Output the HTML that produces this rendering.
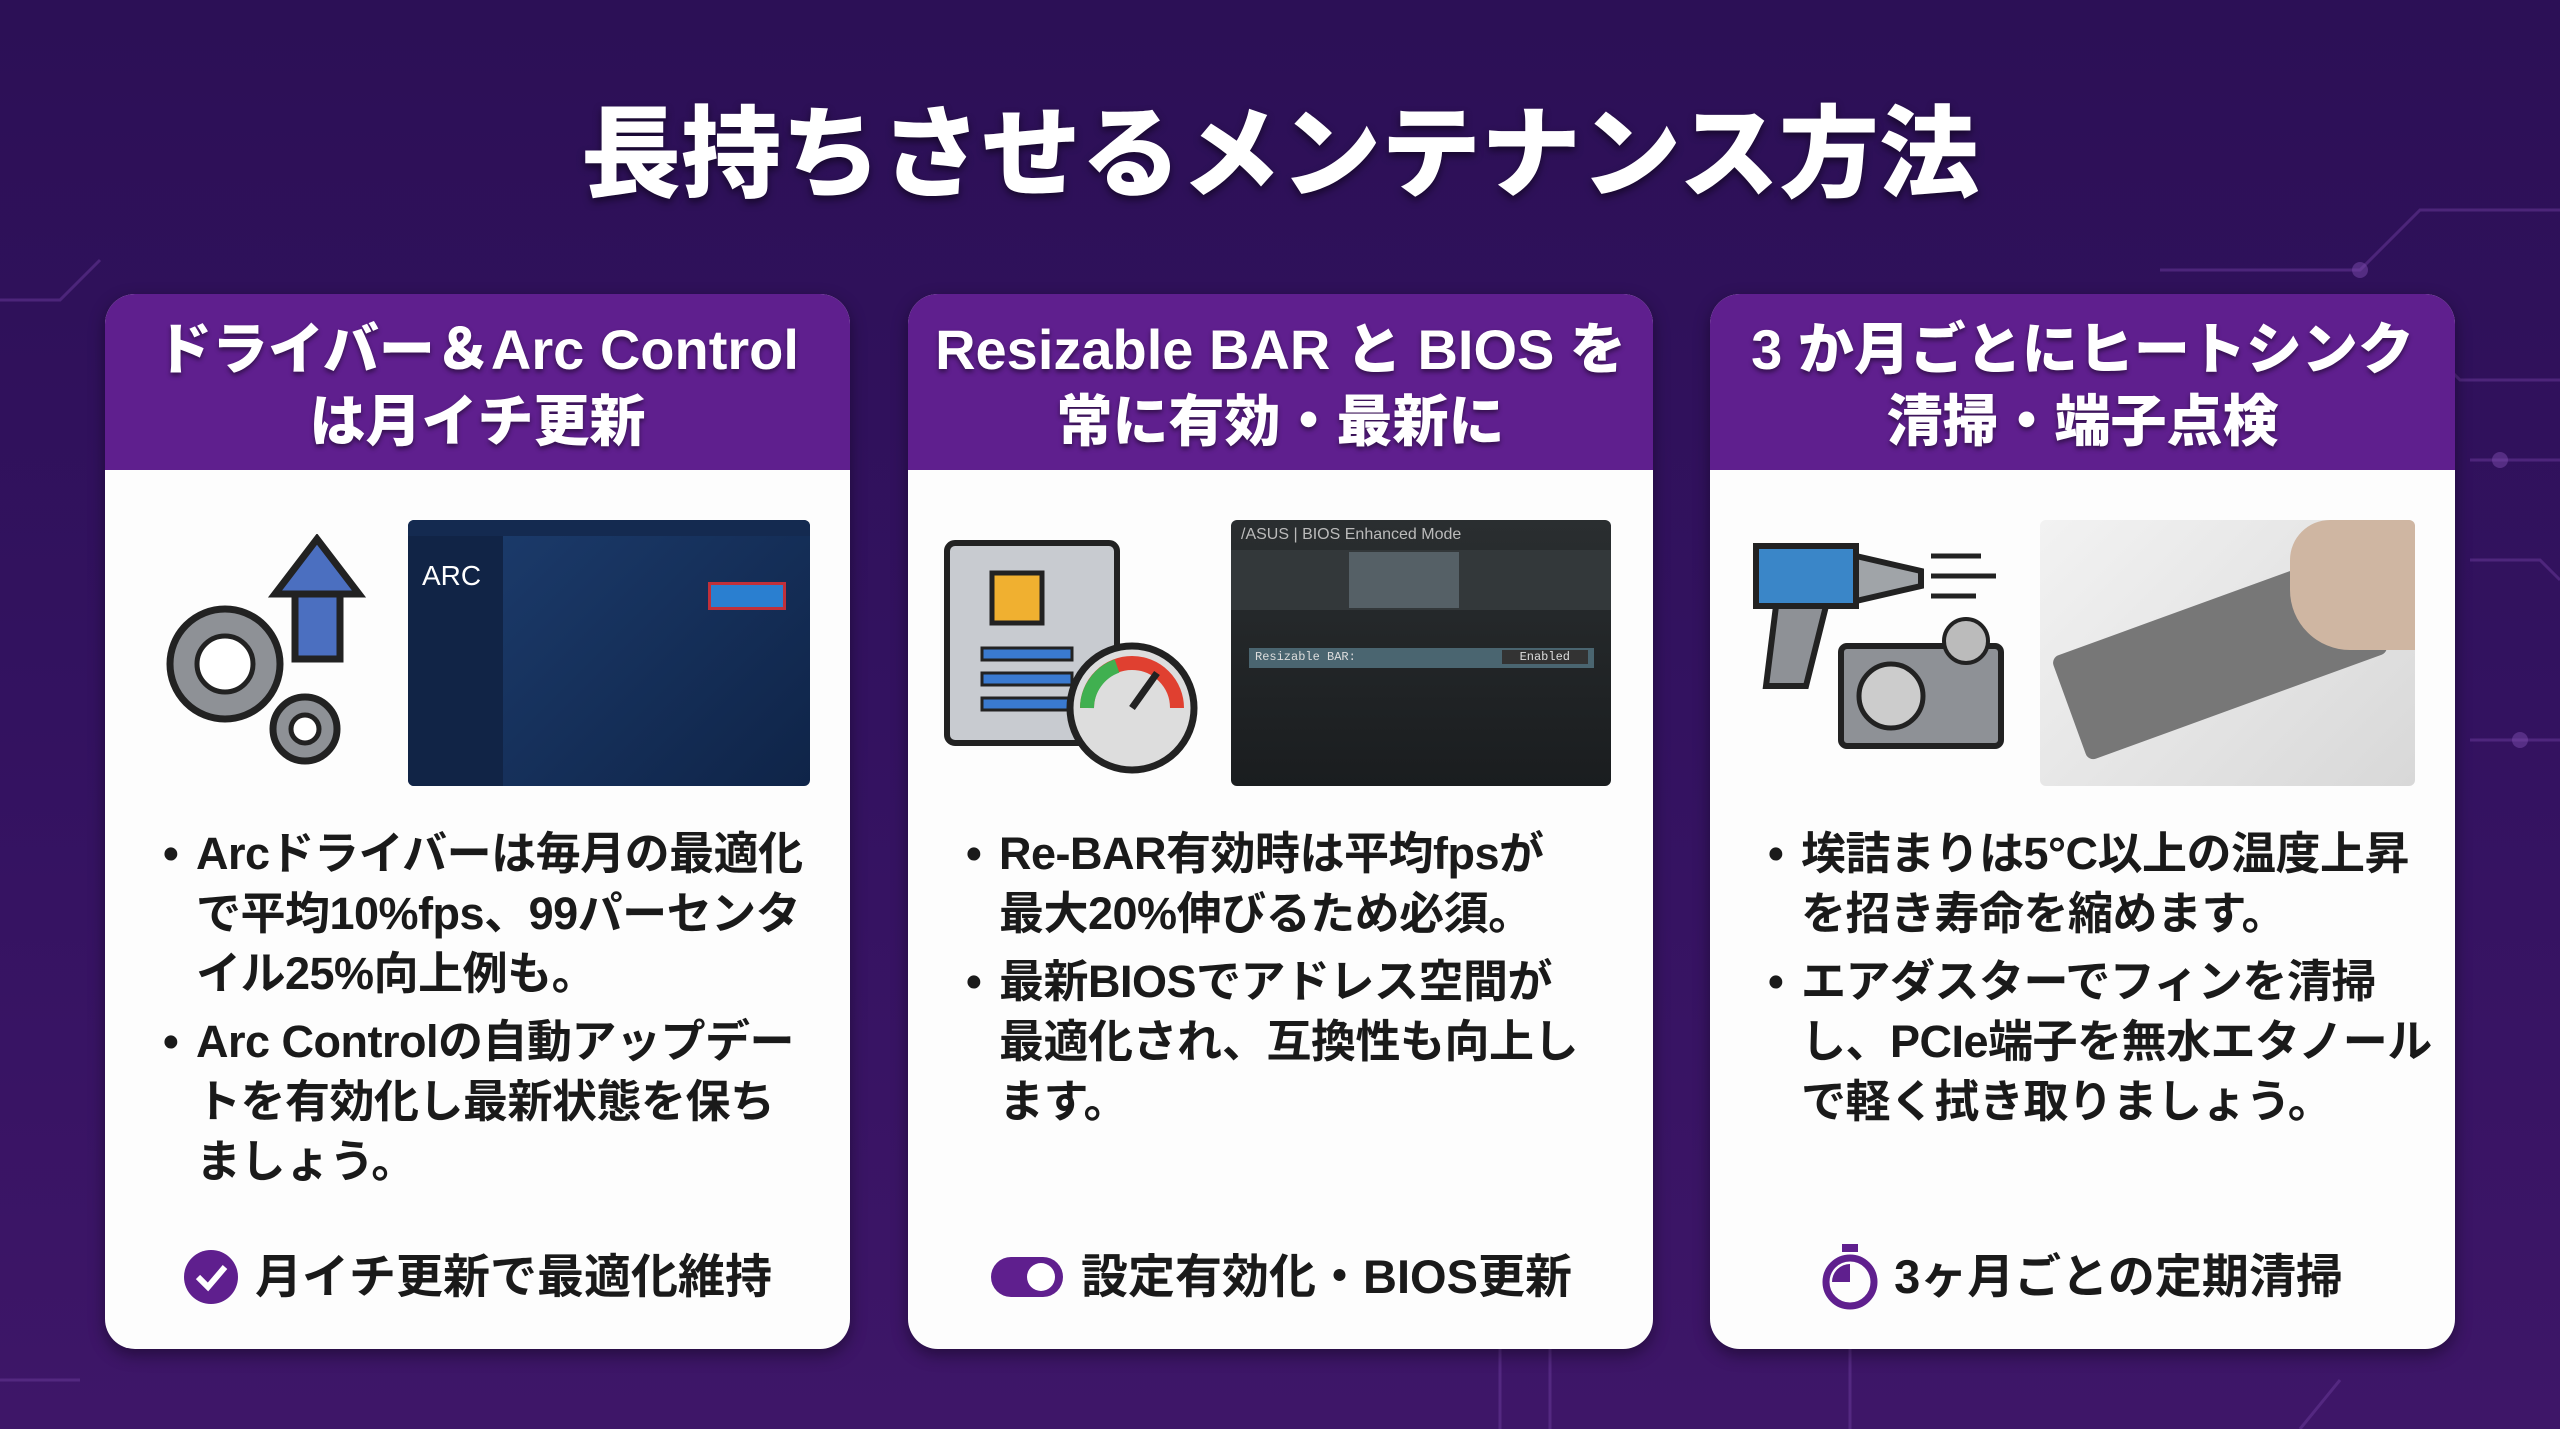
<!DOCTYPE html>
<html><head><meta charset="utf-8"><style>
*{margin:0;padding:0;box-sizing:border-box}
body{width:2560px;height:1429px;overflow:hidden;background:linear-gradient(180deg,#2c1056 0%,#331260 50%,#3e1668 100%);font-family:"Liberation Sans","Noto Sans CJK JP",sans-serif;position:relative}
h1{position:absolute;left:0;width:2560px;top:90px;text-align:center;color:#fff;font-size:100px;font-weight:900;letter-spacing:0px;line-height:130px;text-shadow:0 4px 8px rgba(0,0,0,.5)}
.card{position:absolute;top:294px;width:745px;height:1055px;background:#fdfdfd;border-radius:30px;overflow:hidden;box-shadow:0 6px 16px rgba(0,0,0,.4)}
.hd{height:176px;background:#5f1f8e;color:#fff;text-align:center;font-weight:900;font-size:56px;line-height:72px;padding-top:20px;text-shadow:0 3px 5px rgba(0,0,0,.45);white-space:nowrap}
.img{position:absolute;top:225px}
ul{position:absolute;left:58px;top:530px;list-style:none;font-size:45px;font-weight:700;color:#1a1a1a;line-height:60px;white-space:nowrap;letter-spacing:-0.5px}
li{padding-left:33px;position:relative;margin-bottom:8px}
li:before{content:"•";position:absolute;left:0;top:0}
.ft{position:absolute;top:950px;left:0;width:745px;text-align:center;font-size:47px;font-weight:700;color:#1a1a1a;line-height:66px}
.ft svg{vertical-align:middle;margin-right:16px;position:relative;top:-4px}
</style></head><body>
<svg style="position:absolute;left:0;top:0" width="2560" height="1429">
<g stroke="#6a3a9a" stroke-width="3" fill="none" opacity=".5">
<path d="M2160 270 H2360 L2420 210 H2560"/><path d="M2200 320 H2400 L2460 380 H2560"/><path d="M2470 460 H2560"/><path d="M2470 560 H2540 L2560 580"/>
<path d="M2470 740 H2560"/><path d="M1500 1349 V1429"/><path d="M1550 1349 V1429"/><path d="M1850 1349 V1429"/><path d="M2340 1380 L2300 1429"/>
<path d="M0 300 H60 L100 260"/><path d="M0 1380 H80"/></g>
<g fill="#7a4aaa" opacity=".5"><circle cx="2360" cy="270" r="8"/><circle cx="2500" cy="460" r="8"/><circle cx="2520" cy="740" r="8"/></g>
</svg>
<h1>長持ちさせるメンテナンス方法</h1>

<div class="card" style="left:105px">
<div class="hd">ドライバー＆Arc Control<br>は月イチ更新</div>
<svg class="img" style="left:40px;top:240px" width="240" height="240" viewBox="0 0 240 240">
<g stroke="#222" stroke-width="7" fill="#8e9196">
<circle cx="80" cy="130" r="55"/><circle cx="160" cy="195" r="32"/>
<path d="M150 55 L195 55 L195 125 L150 125 Z" fill="#4b6fc0"/><path d="M130 60 L172 5 L214 60 Z" fill="#4b6fc0"/></g>
<g fill="#8e9196" stroke="#222" stroke-width="5"><circle cx="80" cy="130" r="28" fill="#fff"/><circle cx="160" cy="195" r="14" fill="#fff"/></g>
</svg>
<div class="img" style="left:303px;top:226px;width:402px;height:266px;background:linear-gradient(135deg,#1d3e70,#0f2448);border-radius:6px;overflow:hidden">
<div style="position:absolute;left:0;top:0;width:402px;height:16px;background:#142a50"></div>
<div style="position:absolute;left:0;top:16px;width:95px;height:250px;background:#112446"></div>
<div style="position:absolute;left:14px;top:40px;color:#fff;font-size:28px">ARC</div>
<div style="position:absolute;left:300px;top:62px;width:78px;height:28px;background:#2a7fd0;border:3px solid #c0303a"></div>
</div>
<ul><li>Arcドライバーは毎月の最適化<br>で平均10%fps、99パーセンタ<br>イル25%向上例も。</li><li>Arc Controlの自動アップデー<br>トを有効化し最新状態を保ち<br>ましょう。</li></ul>
<div class="ft"><svg width="56" height="56"><circle cx="28" cy="28" r="27" fill="#5f1f8e"/><path d="M15 28 L25 38 L42 18" stroke="#fff" stroke-width="6" fill="none"/></svg>月イチ更新で最適化維持</div>
</div>

<div class="card" style="left:908px">
<div class="hd">Resizable BAR と BIOS を<br>常に有効・最新に</div>
<svg class="img" style="left:34px;top:244px" width="270" height="240" viewBox="0 0 270 240">
<rect x="5" y="5" width="170" height="200" rx="8" fill="#c8cbd0" stroke="#222" stroke-width="6"/>
<rect x="50" y="35" width="50" height="50" fill="#f0b030" stroke="#222" stroke-width="5"/>
<g fill="#3a7ad0" stroke="#222" stroke-width="3"><rect x="40" y="110" width="90" height="12"/><rect x="40" y="135" width="90" height="12"/><rect x="40" y="160" width="90" height="12"/></g>
<circle cx="190" cy="170" r="62" fill="#ddd" stroke="#222" stroke-width="7"/>
<path d="M145 170 A45 45 0 0 1 235 170" stroke="#e04030" stroke-width="14" fill="none"/>
<path d="M145 170 A45 45 0 0 1 175 128" stroke="#40b050" stroke-width="14" fill="none"/>
<path d="M190 170 L215 135" stroke="#222" stroke-width="7"/></svg>
<div class="img" style="left:323px;top:226px;width:380px;height:266px;background:linear-gradient(180deg,#2a2e30,#1a1d1f);border-radius:6px;overflow:hidden">
<div style="position:absolute;left:10px;top:6px;color:#bbb;font-size:16px">/ASUS | BIOS Enhanced Mode</div>
<div style="position:absolute;left:0;top:30px;width:380px;height:60px;background:#33383a"></div>
<div style="position:absolute;left:118px;top:32px;width:110px;height:56px;background:#556066"></div>
<div style="position:absolute;left:18px;top:128px;width:345px;height:20px;background:#4a6570;color:#ddd;font-size:12px;font-family:'Liberation Mono',monospace;padding:2px 6px">Resizable BAR:<span style="float:right;background:#333;padding:0 18px">Enabled</span></div>
</div>
<ul><li>Re-BAR有効時は平均fpsが<br>最大20%伸びるため必須。</li><li>最新BIOSでアドレス空間が<br>最適化され、互換性も向上し<br>ます。</li></ul>
<div class="ft"><svg width="76" height="44"><rect x="2" y="2" width="72" height="40" rx="20" fill="#5f1f8e"/><circle cx="52" cy="22" r="14" fill="#fff"/></svg>設定有効化・BIOS更新</div>
</div>

<div class="card" style="left:1710px">
<div class="hd">3 か月ごとにヒートシンク<br>清掃・端子点検</div>
<svg class="img" style="left:36px;top:232px" width="265" height="250" viewBox="0 0 265 250">
<path d="M10 20 H110 V80 H10 Z" fill="#3a86c8" stroke="#222" stroke-width="6"/>
<path d="M110 30 L175 45 V60 L110 75 Z" fill="#a0a4a8" stroke="#222" stroke-width="6"/>
<path d="M30 80 H80 L60 160 H20 Z" fill="#8e9196" stroke="#222" stroke-width="6"/>
<g stroke="#222" stroke-width="5" fill="none"><path d="M185 30 H235"/><path d="M185 50 H250"/><path d="M185 70 H230"/></g>
<rect x="95" y="120" width="160" height="100" rx="6" fill="#8e9196" stroke="#222" stroke-width="6"/>
<circle cx="145" cy="170" r="32" fill="#ccc" stroke="#222" stroke-width="5"/>
<circle cx="220" cy="115" r="22" fill="#bbb" stroke="#222" stroke-width="4"/></svg>
<div class="img" style="left:330px;top:226px;width:375px;height:266px;background:linear-gradient(135deg,#f2f2f2,#d8d8d8);border-radius:6px;overflow:hidden">
<div style="position:absolute;left:20px;top:80px;width:320px;height:110px;background:#777;transform:rotate(-20deg);border-radius:8px"></div>
<div style="position:absolute;left:250px;top:0;width:125px;height:130px;background:#cfb6a2;border-radius:40px 0 0 60px"></div>
</div>
<ul><li>埃詰まりは5°C以上の温度上昇<br>を招き寿命を縮めます。</li><li>エアダスターでフィンを清掃<br>し、PCIe端子を無水エタノール<br>で軽く拭き取りましょう。</li></ul>
<div class="ft"><svg width="56" height="66"><rect x="20" y="0" width="16" height="8" fill="#5f1f8e"/><circle cx="28" cy="38" r="24" fill="none" stroke="#5f1f8e" stroke-width="7"/><path d="M28 38 V20 A18 18 0 0 0 10 38 Z" fill="#5f1f8e"/></svg>3ヶ月ごとの定期清掃</div>
</div>
</body></html>
